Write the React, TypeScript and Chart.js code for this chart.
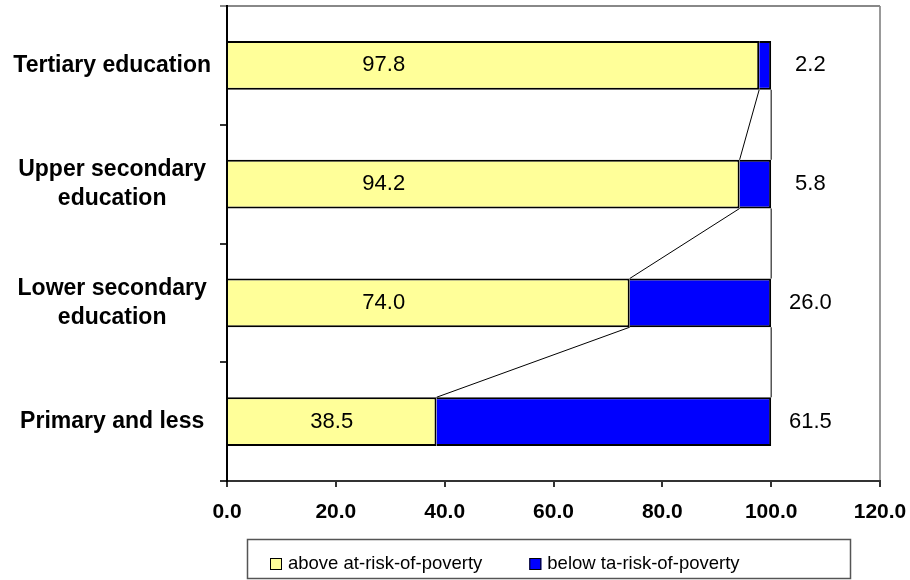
import React, { useEffect, useRef } from "react";
import { Chart, registerables } from "chart.js";

Chart.register(...registerables);

// Education levels, top to bottom
const categories: (string | string[])[] = [
  "Tertiary education",
  ["Upper secondary", "education"],
  ["Lower secondary", "education"],
  "Primary and less",
];

// Shares (%) above / below the at-risk-of-poverty threshold
const aboveValues = [97.8, 94.2, 74.0, 38.5];
const belowValues = [2.2, 5.8, 26.0, 61.5];

const seriesNames = ["above at-risk-of-poverty", "below ta-risk-of-poverty"];
const seriesColors = ["#FFFF99", "#0000FF"];

const xMin = 0;
const xMax = 120;
const xStep = 20;

const FONT = "'Liberation Sans', Arial, Helvetica, sans-serif";

// Thin connector lines between the segment ends of neighbouring bars
const seriesLinesPlugin = {
  id: "seriesLines",
  afterDatasetsDraw(chart: any) {
    const ctx = chart.ctx;
    ctx.save();
    ctx.strokeStyle = "#000000";
    ctx.lineWidth = 1;
    chart.data.datasets.forEach((_: any, di: number) => {
      const meta = chart.getDatasetMeta(di);
      for (let i = 0; i < meta.data.length - 1; i++) {
        const a = meta.data[i].getProps(["x", "y", "height"], true);
        const b = meta.data[i + 1].getProps(["x", "y", "height"], true);
        ctx.beginPath();
        ctx.moveTo(a.x, a.y + a.height / 2);
        ctx.lineTo(b.x, b.y - b.height / 2);
        ctx.stroke();
      }
    });
    ctx.restore();
  },
};

// Value labels: inside the yellow segment and to the right of each bar
const valueLabelsPlugin = {
  id: "valueLabels",
  afterDatasetsDraw(chart: any) {
    const ctx = chart.ctx;
    const xs = chart.scales.x;
    ctx.save();
    ctx.font = `22px ${FONT}`;
    ctx.fillStyle = "#000000";
    ctx.textAlign = "center";
    ctx.textBaseline = "middle";
    const m0 = chart.getDatasetMeta(0);
    const m1 = chart.getDatasetMeta(1);
    aboveValues.forEach((v, i) => {
      const el = m0.data[i];
      const x = xs.getPixelForValue(Math.min(v / 2, 28.8));
      ctx.fillText(v.toFixed(1), x, el.y);
    });
    belowValues.forEach((v, i) => {
      const el = m1.data[i];
      const x = xs.getPixelForValue(aboveValues[i] + v + 7.2);
      ctx.fillText(v.toFixed(1), x, el.y);
    });
    ctx.restore();
  },
};

// Framed legend below the axis
const legendBoxPlugin = {
  id: "legendBox",
  afterDraw(chart: any) {
    const ctx = chart.ctx;
    const datasets = chart.data.datasets;
    ctx.save();
    ctx.strokeStyle = "#555555";
    ctx.lineWidth = 1.5;
    ctx.strokeRect(247.5, 539.5, 603, 39);
    ctx.font = `18.5px ${FONT}`;
    ctx.textBaseline = "alphabetic";
    ctx.textAlign = "left";
    let x = 270;
    datasets.forEach((ds: any) => {
      ctx.fillStyle = ds.backgroundColor;
      ctx.fillRect(x, 558, 12, 12);
      ctx.strokeStyle = "#000000";
      ctx.lineWidth = 1;
      ctx.strokeRect(x + 0.5, 558.5, 11, 11);
      ctx.fillStyle = "#000000";
      ctx.fillText(ds.label, x + 18, 569);
      x += 18 + ctx.measureText(ds.label).width + 47;
    });
    ctx.restore();
  },
};

const zeroPadding = (s: any) => {
  s.paddingTop = 0;
  s.paddingBottom = 0;
  s.paddingLeft = 0;
  s.paddingRight = 0;
};

export default function App() {
  const canvasRef = useRef<HTMLCanvasElement | null>(null);

  useEffect(() => {
    if (!canvasRef.current) return;
    const chart = new Chart(canvasRef.current, {
      type: "bar",
      data: {
        labels: categories,
        datasets: [
          {
            label: seriesNames[0],
            data: aboveValues,
            backgroundColor: seriesColors[0],
            borderColor: "#000000",
            borderWidth: 2,
            categoryPercentage: 1,
            barPercentage: 0.41,
          },
          {
            label: seriesNames[1],
            data: belowValues,
            backgroundColor: seriesColors[1],
            borderColor: "#000000",
            borderWidth: 2,
            categoryPercentage: 1,
            barPercentage: 0.41,
          },
        ],
      },
      options: {
        indexAxis: "y",
        responsive: false,
        animation: false,
        layout: { padding: { top: 6, right: 30, bottom: 49, left: 0 } },
        plugins: {
          legend: { display: false },
          tooltip: { enabled: false },
        },
        scales: {
          x: {
            stacked: true,
            min: xMin,
            max: xMax,
            ticks: {
              stepSize: xStep,
              color: "#000000",
              font: { family: FONT, size: 21, weight: "bold" },
              padding: 13,
              maxRotation: 0,
              callback: (v: any) => Number(v).toFixed(1),
            },
            grid: {
              drawOnChartArea: true,
              color: (c: any) => (c.tick && c.tick.value === xMax ? "#999999" : "rgba(0,0,0,0)"),
              lineWidth: 2,
              tickColor: "#333333",
              tickLength: 6,
            },
            border: { display: true, color: "#333333", width: 2 },
            afterFit: (s: any) => {
              s.height = 50;
              zeroPadding(s);
            },
          },
          y: {
            stacked: true,
            ticks: {
              color: "#000000",
              font: { family: FONT, size: 23, weight: "bold", lineHeight: 1.26 },
              padding: 9,
              crossAlign: "center",
            },
            grid: {
              drawOnChartArea: true,
              color: (c: any) => (c.index === 0 ? "#888888" : "rgba(0,0,0,0)"),
              lineWidth: 2,
              tickColor: (c: any) => (c.index === 0 ? "#888888" : "#333333"),
              tickLength: 7,
            },
            border: { display: true, color: "#000000", width: 2 },
            afterFit: (s: any) => {
              s.width = 227;
              zeroPadding(s);
            },
          },
        },
      },
      plugins: [seriesLinesPlugin, valueLabelsPlugin, legendBoxPlugin],
    } as any);
    return () => chart.destroy();
  }, []);

  return (
    <div style={{ position: "absolute", left: 0, top: 0, width: 910, height: 580, background: "#ffffff" }}>
      <canvas ref={canvasRef} width={910} height={580} style={{ display: "block" }} />
    </div>
  );
}
